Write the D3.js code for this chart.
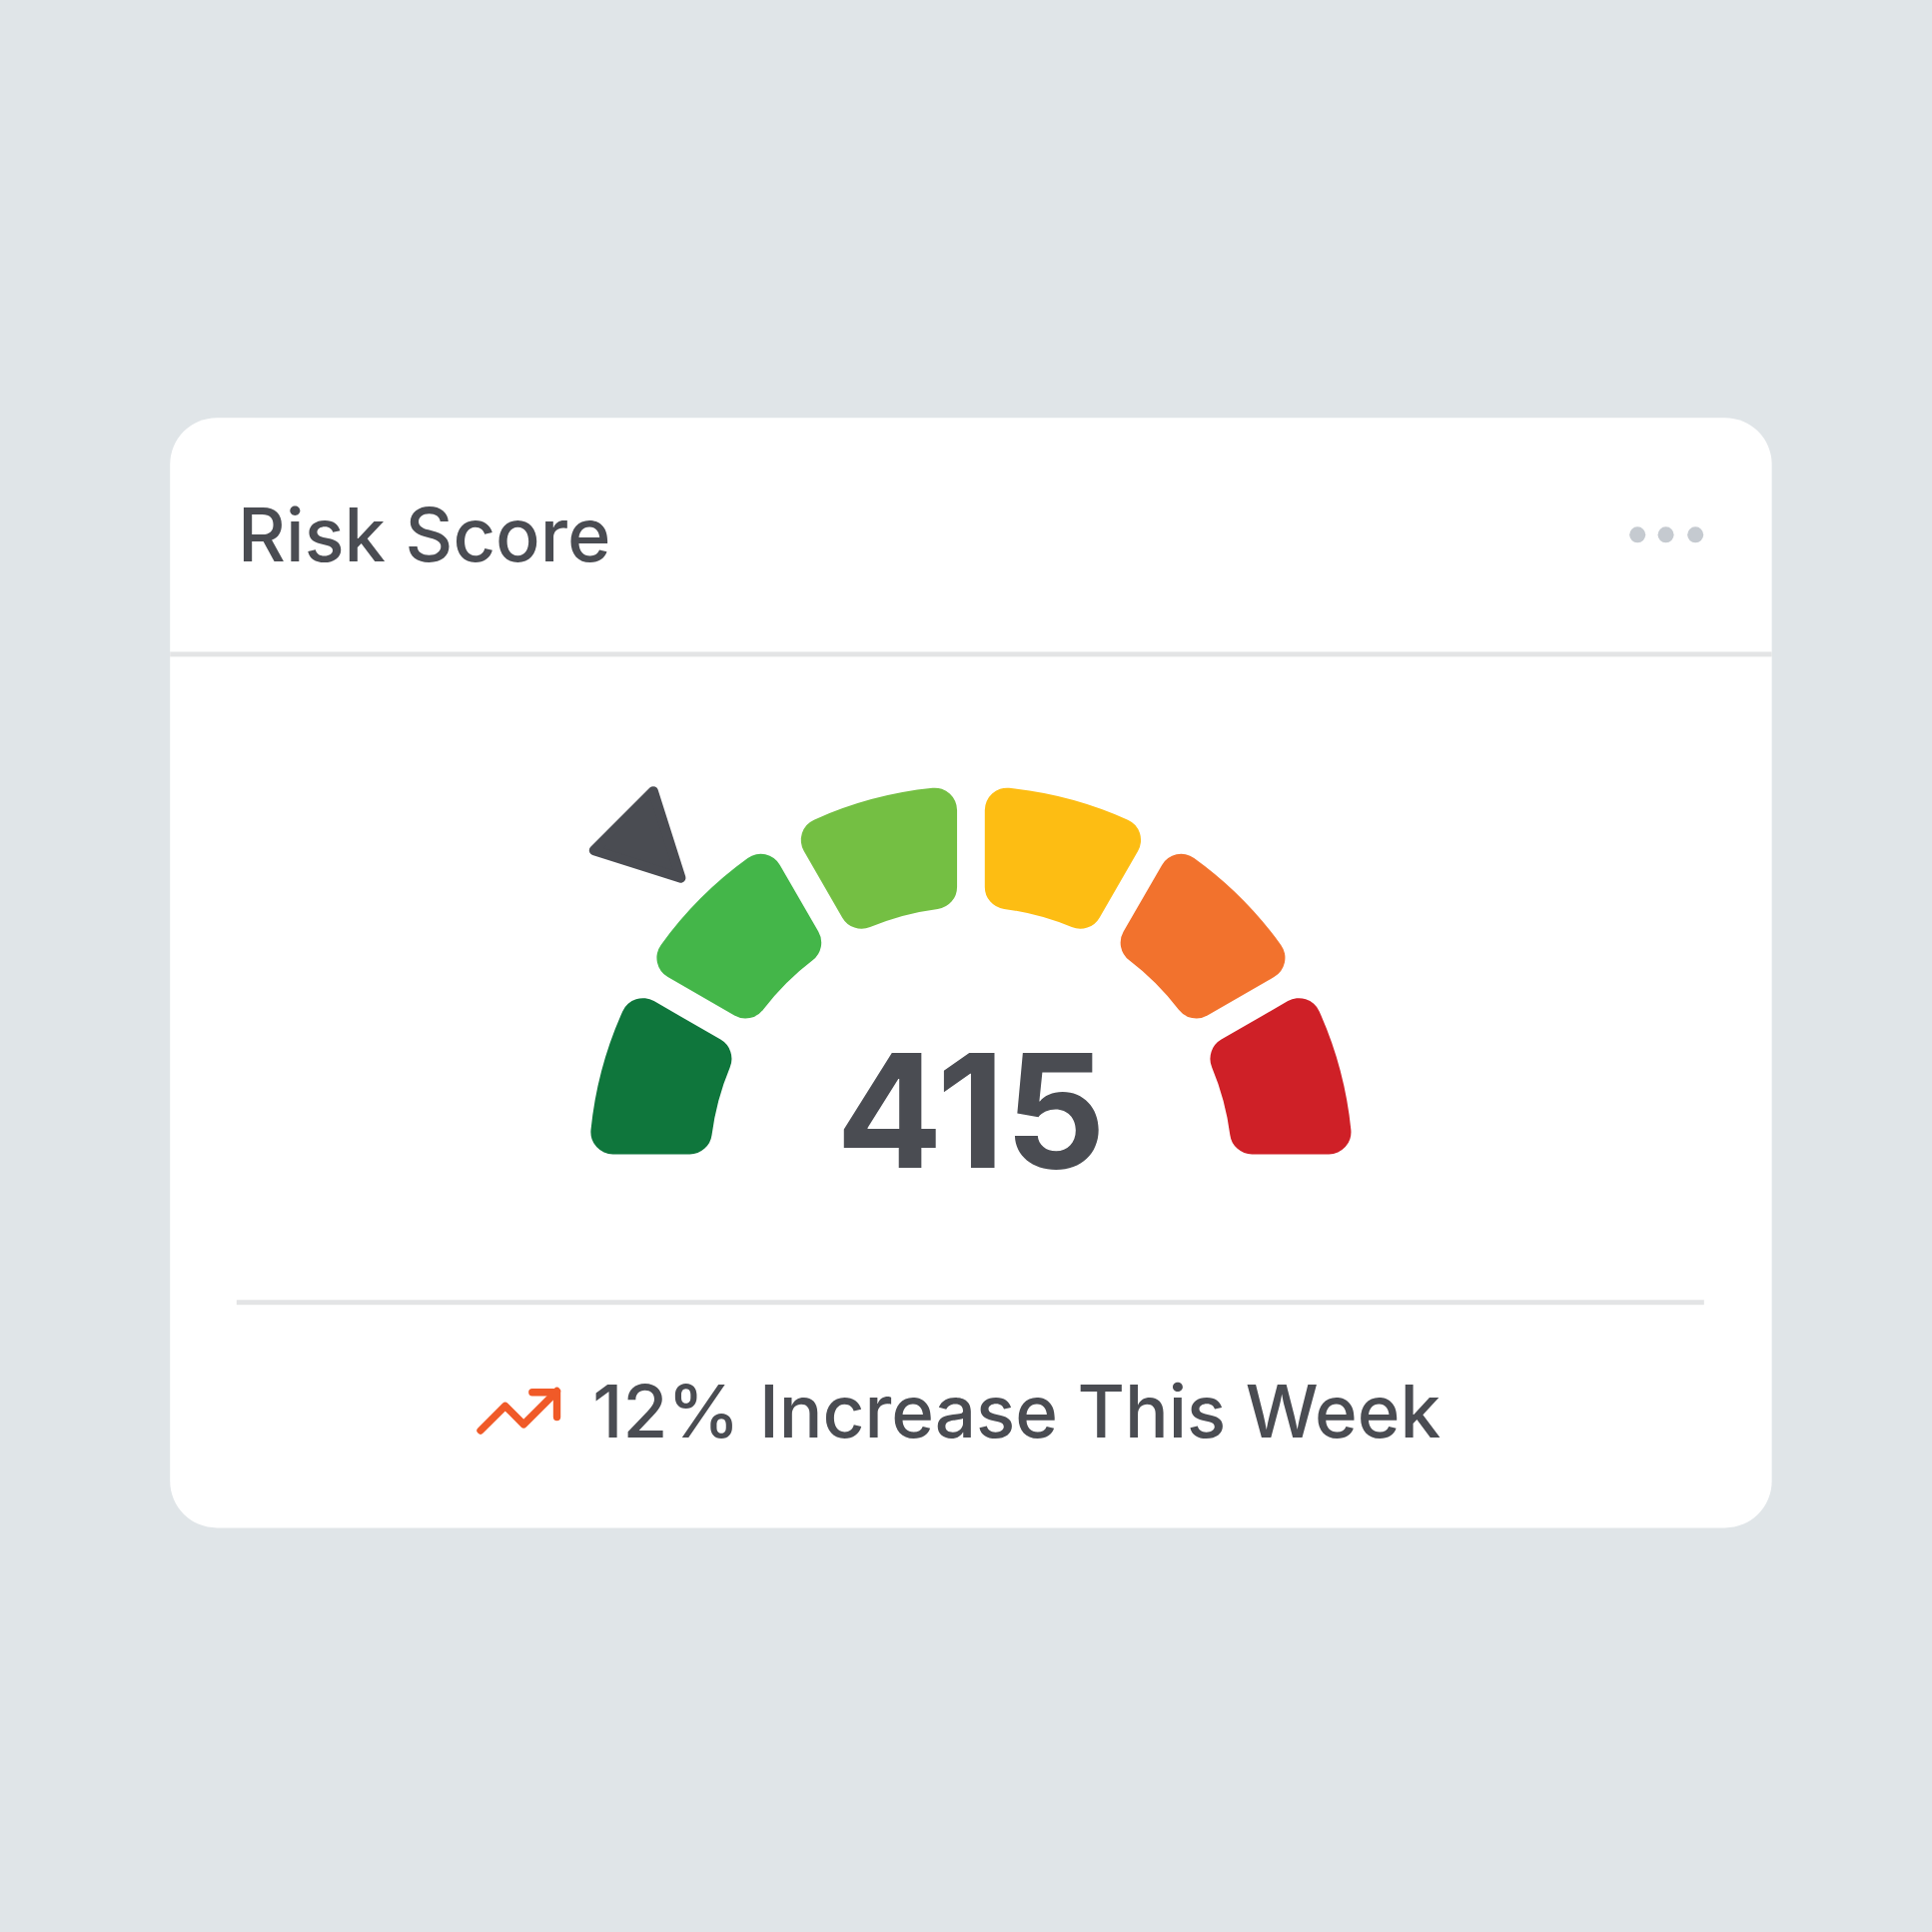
<!DOCTYPE html><html><head><meta charset="utf-8">
<script src="https://cdn.jsdelivr.net/npm/d3@7"></script>
<style>html,body{margin:0;background:#e0e5e8}</style></head><body>
<svg id="c" width="1934" height="1934" viewBox="0 0 1568 1568"></svg>
<script>
const title = "Risk Score";
const scoreValue = 415;
const scoreDomain = [250, 910];
const bands = ["Very Low","Low","Moderate","Elevated","High","Very High"];
const bandColors = ["#0f763c","#44b649","#74bf43","#fdbd13","#f2722d","#cf2027"];
const footerText = "12% Increase This Week";

const svg = d3.select("#c");
svg.append("rect").attr("width",1568).attr("height",1568).attr("fill","#e0e5e8");
svg.append("rect").attr("x",138).attr("y",339).attr("width",1300).attr("height",901).attr("rx",38).attr("fill","#fff");
svg.append("rect").attr("x",138).attr("y",529).attr("width",1300).attr("height",4).attr("fill","#e3e4e5");
svg.append("rect").attr("x",192).attr("y",1055).attr("width",1191).attr("height",4).attr("fill","#e3e4e5");
svg.append("text").attr("x",193).attr("y",456).attr("font-family","Inter, Roboto, sans-serif").attr("font-size",60).attr("font-weight",500).attr("fill","#4a4c52").text(title);
svg.selectAll(".dot").data([1329,1352,1376]).enter().append("circle").attr("cx",d=>d).attr("cy",434).attr("r",6.5).attr("fill","#c5cad0");

const cx=788, cy=948;
const g = svg.append("g").attr("transform",`translate(${cx},${cy})`);
const ang = d3.scaleLinear().domain([0,bands.length]).range([-Math.PI/2, Math.PI/2]);
const arc = d3.arc().innerRadius(212).outerRadius(310).padAngle(0.075).padRadius(300).cornerRadius(18);
g.selectAll("path.band").data(bands).enter().append("path")
  .attr("d",(d,i)=>arc({startAngle:ang(i),endAngle:ang(i+1)}))
  .attr("fill",(d,i)=>bandColors[i]);

const valAng = d3.scaleLinear().domain(scoreDomain).range([-Math.PI/2, Math.PI/2])(scoreValue);
const pt=(r,a)=>[r*Math.sin(a), -r*Math.cos(a)];
const tip=pt(333,valAng), b1=pt(400,valAng-0.085), b2=pt(400,valAng+0.085);
g.append("path").attr("d",`M${tip}L${b1}L${b2}Z`).attr("fill","#4a4c52").attr("stroke","#4a4c52").attr("stroke-width",8).attr("stroke-linejoin","round");

g.append("text").attr("x",0).attr("y",0).attr("text-anchor","middle").attr("font-family","Inter, Roboto, sans-serif").attr("font-weight",700).attr("font-size",128).attr("fill","#4a4c52").text(scoreValue);

const ic = svg.append("g").attr("fill","none").attr("stroke","#f05a28").attr("stroke-width",6).attr("stroke-linecap","round").attr("stroke-linejoin","round");
ic.append("path").attr("d","M390,1161 L410,1141 L425,1156 L452,1129");
ic.append("path").attr("d","M432,1130 L452,1130 L452,1150");
svg.append("text").attr("x",481).attr("y",1167).attr("font-family","Inter, Roboto, sans-serif").attr("font-size",59).attr("font-weight",500).attr("fill","#4a4c52").text(footerText);
</script></body></html>
